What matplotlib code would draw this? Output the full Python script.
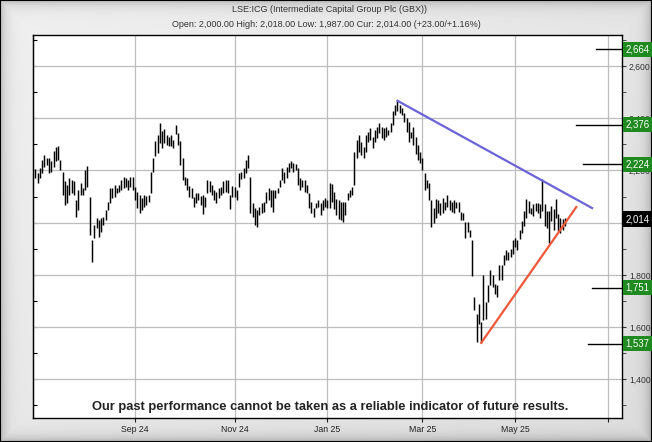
import numpy as np
import pandas as pd
import matplotlib
matplotlib.use('Agg')
import matplotlib.pyplot as plt
from matplotlib.ticker import MultipleLocator, FuncFormatter

plt.rcParams['font.family'] = ['Liberation Sans', 'DejaVu Sans']

# LSE:ICG daily bars (high / low), first bar 1 Jul 2024, UK trading days
uk_holidays = ['2024-08-26', '2024-12-25', '2024-12-26', '2025-01-01',
               '2025-04-18', '2025-04-21', '2025-05-05', '2025-05-26']

highs = [2205, 2192, 2209, 2241, 2260, 2247, 2247, 2235, 2273, 2290, 2295, 2241, 2196, 2158, 2145, 2171,
         2164, 2158, 2087, 2126, 2151, 2132, 2200, 2218, 2100, 1933, 1991, 2017, 2010, 2017, 2023, 2049,
         2081, 2132, 2132, 2145, 2132, 2145, 2164, 2174, 2171, 2164, 2174, 2174, 2138, 2119,
         2106, 2094, 2106, 2103, 2106, 2196, 2247, 2312, 2337, 2382, 2350, 2359, 2337, 2330, 2337, 2318,
         2376, 2344, 2312, 2247, 2177, 2170, 2141, 2132, 2100, 2113, 2115, 2103, 2106, 2097, 2164, 2158,
         2145, 2126, 2119, 2132, 2138, 2158, 2164, 2164, 2106, 2141, 2138,
         2126, 2190, 2196, 2209, 2241, 2260, 2177, 2074, 2055, 2049, 2062, 2074, 2081, 2119, 2132, 2126,
         2126, 2126, 2132, 2164, 2209, 2196, 2215, 2228, 2235, 2228, 2226, 2209, 2171, 2164, 2164, 2145,
         2113, 2081, 2055, 2074, 2087, 2074, 2087, 2094, 2087, 2151,
         2150, 2118, 2092, 2086, 2079, 2079, 2079, 2112, 2124, 2137, 2272, 2317, 2336, 2310, 2291, 2336,
         2349, 2362, 2329, 2355, 2368, 2381, 2368, 2362, 2368, 2355, 2381, 2426, 2451, 2467, 2451, 2438,
         2419, 2400, 2387, 2349, 2368, 2329, 2297, 2272, 2246,
         2190, 2164, 2151, 2087, 2055, 2090, 2087, 2074, 2094, 2081, 2106, 2087, 2081, 2087, 2081, 2081,
         2042, 2036, 2004, 2004, 1972, 1933, 1715, 1651, 1690, 1619, 1799, 1696, 1760, 1818, 1799, 1767,
         1760, 1837, 1837, 1876, 1895, 1888, 1901, 1933, 1940, 1933,
         1974, 2006, 2045, 2090, 2083, 2058, 2070, 2077, 2077, 2070, 2167, 2070, 2045, 2045, 2064, 2051,
         2090, 2032, 2019, 2013, 2018]

lows = [2171, 2151, 2171, 2190, 2215, 2222, 2190, 2196, 2215, 2235, 2241, 2203, 2106, 2068, 2074, 2106,
        2113, 2106, 2023, 2049, 2106, 2106, 2126, 2138, 1953, 1850, 1940, 1978, 1946, 1965, 1991, 2010,
        2049, 2074, 2094, 2100, 2113, 2119, 2126, 2132, 2138, 2126, 2138, 2126, 2087, 2055,
        2036, 2049, 2062, 2068, 2081, 2113, 2196, 2254, 2267, 2305, 2286, 2305, 2299, 2292, 2292, 2286,
        2341, 2299, 2222, 2164, 2145, 2126, 2100, 2094, 2062, 2074, 2087, 2068, 2033, 2062, 2113, 2119,
        2106, 2087, 2074, 2094, 2106, 2113, 2119, 2113, 2051, 2100, 2100,
        2087, 2138, 2167, 2171, 2190, 2209, 2036, 2023, 1991, 1985, 2030, 2036, 2042, 2074, 2087, 2062,
        2042, 2094, 2113, 2138, 2164, 2151, 2171, 2196, 2209, 2196, 2203, 2145, 2126, 2138, 2119, 2113,
        2055, 2036, 2023, 2055, 2062, 2030, 2049, 2062, 2055, 2055,
        2079, 2054, 2028, 2015, 2009, 2003, 2028, 2086, 2099, 2105, 2146, 2246, 2272, 2259, 2246, 2272,
        2310, 2317, 2285, 2310, 2323, 2342, 2323, 2317, 2329, 2336, 2349, 2374, 2413, 2426, 2419, 2413,
        2387, 2349, 2310, 2323, 2297, 2265, 2240, 2227, 2201,
        2126, 2132, 2087, 1985, 1997, 2017, 2036, 2029, 2036, 2049, 2062, 2049, 2042, 2036, 2055, 2042,
        2010, 2010, 1940, 1965, 1946, 1795, 1664, 1542, 1613, 1540, 1626, 1632, 1696, 1760, 1754, 1728,
        1715, 1780, 1780, 1837, 1856, 1856, 1869, 1882, 1908, 1895,
        1936, 1962, 1987, 2019, 2038, 2032, 2026, 2045, 2038, 2019, 2045, 1987, 1981, 1923, 2006, 1974,
        2019, 1968, 1962, 1974, 1987]

# trend lines (date, price)
resist_line = [('2025-02-14', 2467), ('2025-06-20', 2056)]
support_line = [('2025-04-08', 1540), ('2025-06-11', 2060)]

targets = [2664, 2376, 2224, 1751, 1537]
target_line_start = [0.956, 0.922, 0.934, 0.949, 0.942]
current = 2014

title1 = 'LSE:ICG (Intermediate Capital Group Plc (GBX))'
title2 = 'Open: 2,000.00 High: 2,018.00 Low: 1,987.00 Cur: 2,014.00 (+23.00/+1.16%)'
disclaimer = 'Our past performance cannot be taken as a reliable indicator of future results.'

dates = pd.bdate_range('2024-07-01', '2025-07-31', freq='C', holidays=uk_holidays)
x = np.arange(len(highs))

fig = plt.figure(figsize=(6.52, 4.42), dpi=100)

# grey bevelled frame
bg = fig.add_axes([0, 0, 1, 1], zorder=-5)
h, w = 442, 652
yy, xx = np.mgrid[0:h, 0:w]
d = np.minimum(np.minimum(xx, w - 1 - xx), np.minimum(yy, h - 1 - yy)).astype(float)
shade = 0.94 - 0.2 * np.exp(-d / 6.0) - 0.04 * (xx / w) - 0.03 * (yy / h)
bg.imshow(shade, cmap='gray', vmin=0, vmax=1, aspect='auto', extent=[0, 1, 0, 1])
bg.add_patch(plt.Rectangle((0, 0), 1, 1, fill=False, ec='black', lw=1.5, transform=bg.transAxes))
bg.axis('off')

ax = fig.add_axes([33 / 652, 24 / 442, 589 / 652, 383 / 442])
ax.set_facecolor('white')

ax.vlines(x, lows, highs, color='black', lw=1.05, zorder=3)

for pts, col in [(resist_line, '#6a64d8'), (support_line, '#f0583a')]:
    xs = [dates.get_loc(pd.Timestamp(d0)) for d0, _ in pts]
    ys = [v for _, v in pts]
    ax.plot(xs, ys, color=col, lw=1.6, zorder=4)

ax.set_xlim(-1.06, 259.2)
ax.set_ylim(1252, 2719)

# month ticks every two months
tick_pos, tick_lab = [], []
prev = None
for i, dt in enumerate(dates):
    if dt.month != prev and dt.month % 2 == 1 and i > 0:
        tick_pos.append(i)
        tick_lab.append(dt.strftime('%b %y') if i < len(highs) else '')
    prev = dt.month
ax.set_xticks(tick_pos)
ax.set_xticklabels(tick_lab)
ax.tick_params(axis='x', direction='out', length=3, labelsize=6.3, colors='#222222', pad=2)

ax.yaxis.tick_right()
ax.yaxis.set_major_locator(MultipleLocator(200))
ax.yaxis.set_minor_locator(MultipleLocator(100))
ax.yaxis.set_major_formatter(FuncFormatter(lambda v, p: f'{v:,.0f}'))
ax.tick_params(axis='y', which='both', direction='out', length=3, labelsize=6.2,
               colors='#333333', pad=2)
sec = ax.secondary_yaxis('left')
sec.yaxis.set_major_locator(MultipleLocator(100))
sec.tick_params(direction='in', length=3, labelleft=False)

ax.grid(True, which='major', color='#bdbdbd', lw=0.9)
ax.set_axisbelow(True)
for s in ax.spines.values():
    s.set_color('black')
    s.set_linewidth(1.0)

for v, x0 in zip(targets, target_line_start):
    ax.axhline(v, xmin=x0, xmax=1.0, color='black', lw=1.0, zorder=4)
    ax.text(1.0064, v, f'{v:,}', transform=ax.get_yaxis_transform(), ha='left', va='center',
            fontsize=6.9, color='white', zorder=6, clip_on=False,
            bbox=dict(boxstyle='square,pad=0.28', fc='#1f8a1f', ec='none'))
ax.text(1.0064, current, f'{current:,}', transform=ax.get_yaxis_transform(), ha='left',
        va='center', fontsize=6.9, color='white', zorder=6, clip_on=False,
        bbox=dict(boxstyle='square,pad=0.28', fc='black', ec='none'))

ax.text(0.504, 0.029, disclaimer, transform=ax.transAxes, ha='center', va='center',
        fontsize=9.3, fontweight='bold', color='#222222', zorder=5)

fig.text(0.506, 1 - 9.5 / 442, title1, ha='center', va='center', fontsize=6.5, color='#333333')
fig.text(0.500, 1 - 24.5 / 442, title2, ha='center', va='center', fontsize=6.5, color='#333333')

fig.savefig('out.png', dpi=100)
